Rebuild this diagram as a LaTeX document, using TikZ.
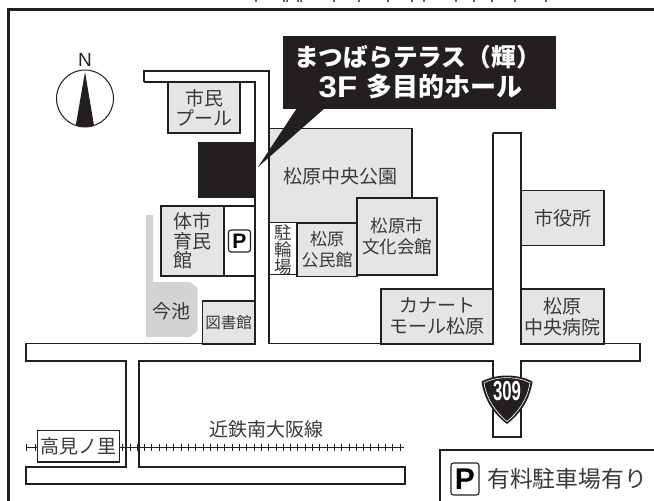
\documentclass[tikz,border=0pt]{standalone}
\usepackage{fontspec}
\setmainfont{Noto Sans CJK JP}
\newfontfamily\latinb{Liberation Sans}
\definecolor{ink}{HTML}{231F20}
\definecolor{txt}{HTML}{3A3839}
\definecolor{bld}{HTML}{E4E5E7}
\definecolor{pond}{HTML}{D1D3D4}
\tikzset{
  roadline/.style={draw=ink,line width=1.1pt},
  bldg/.style={draw=ink,line width=1.1pt,fill=bld,inner sep=0pt,outer sep=0pt,align=center,text=txt,font=\fontsize{19}{21}\selectfont},
  pbox/.style={draw=ink,line width=1.1pt,rounded corners=2.5pt,fill=white,inner sep=0pt,outer sep=0pt},
  lbl/.style={inner sep=0pt,outer sep=0pt,text=txt,align=center,font=\fontsize{19}{20}\selectfont},
  railtick/.style={draw=ink,line width=0.9pt},
  headline/.style={inner sep=0pt,outer sep=0pt,text=white},
}
\begin{document}
\begin{tikzpicture}[x=1pt,y=-1pt]
\useasboundingbox (0,0) rectangle (654,501);
% clipped remains of the heading above the frame
\begin{scope}
\clip (0,0) rectangle (654,1.8);
\foreach \t in {256,284,287,298,301,334,359,388,412,424,456,474,492,515,546} {\draw[ink!70,line width=1.1pt] (\t,0) -- (\t,3);}
\end{scope}
% frame
\draw[ink,line width=2.4pt] (8.5,501) -- (8.5,9.5) -- (654,9.5);
% compass
\node[circle,draw=ink,line width=1pt,minimum size=57pt,inner sep=0pt,outer sep=0pt] (compass) at (85,98.5) {};
\fill[ink] (85,72) -- (94,125.5) arc[start angle=71,end angle=109,radius=28] -- cycle;
\node[inner sep=0pt,text=ink,font=\latinb\fontsize{19}{20}\selectfont] (north) at (85,60) {N};
% roads
\draw[roadline] (144,82) -- (144,71) -- (269,71) -- (269,344);
\draw[roadline] (144,82) -- (255,82) -- (255,344);
\draw[roadline] (493,133) -- (521,133) -- (521,344);
\draw[roadline] (493,133) -- (493,344);
\draw[roadline] (255,343.5) -- (26,343.5) -- (26,361) -- (126,361) -- (126,467) -- (26,467) -- (26,484) -- (405,484) -- (405,467) -- (139,467) -- (139,361) -- (493,361) -- (493,437) -- (521,437) -- (521,361) -- (640,361) -- (640,343.5) -- (521,343.5);
\draw[roadline] (269,343.5) -- (493,343.5);
% pond
\fill[pond] (146,215) -- (153,215) -- (153,282) -- (190,282) -- (197.7,288) -- (197.7,331) -- (190,337) -- (146,337) -- cycle;
\node[lbl] (imaike) at (171,311) {今池};
% buildings
\node[bldg,minimum width=72pt,minimum height=51pt,font=\fontsize{19}{20}\selectfont] (pool) at (204,107.5) {市民\\プール};
\fill[ink] (198,142) rectangle (255,198);
\node[bldg,minimum width=143pt,minimum height=93.5pt] (park) at (340.5,175.5) {};
\node[lbl] (parklabel) at (340.5,176) {松原中央公園};
\node[bldg,fill=white,minimum width=28pt,minimum height=52.5pt] (bike) at (283,248.5) {};
\node[inner sep=0pt,outer sep=0pt,align=center,text=txt,font=\fontsize{17.5}{15.5}\selectfont] (bikelabel) at (283,250) {駐\\輪\\場};
\node[bldg,minimum width=60pt,minimum height=52.5pt,font=\fontsize{17}{21}\selectfont] (hall) at (327,250) {松原\\公民館};
\node[bldg,minimum width=80pt,minimum height=77pt,font=\fontsize{17.5}{21}\selectfont] (bunka) at (397,236.5) {松原市\\文化会館};
\node[bldg,minimum width=63pt,minimum height=70pt,align=left,font=\fontsize{19}{19.5}\selectfont] (gym) at (192.5,241) {体市\\育民\\館};
\node[bldg,fill=white,minimum width=31pt,minimum height=70pt] (gympark) at (239.5,241) {};
\node[pbox,minimum width=22pt,minimum height=22pt,font=\latinb\bfseries\fontsize{21}{21}\selectfont] (pmark) at (239.5,241) {P};
\node[bldg,minimum width=52.5pt,minimum height=43pt,font=\fontsize{15.5}{17}\selectfont] (lib) at (228.7,322.5) {図書館};
\node[bldg,minimum width=83pt,minimum height=55pt] (city) at (562.5,218) {市役所};
\node[bldg,minimum width=112pt,minimum height=55pt] (mall) at (437,316.5) {カナート\\モール松原};
\node[bldg,minimum width=83pt,minimum height=55pt] (hosp) at (562.5,316.5) {松原\\中央病院};
% callout
\node[fill=ink,minimum width=273pt,minimum height=73pt,inner sep=0pt,outer sep=0pt] (callout) at (419.5,72.5) {};
\coordinate (tip) at (258,167);
\fill[ink] (297,108) -- (tip) -- (325,108) -- cycle;
\node[headline,font=\bfseries\fontsize{24.7}{26}\selectfont] (headone) at (417.5,57) {まつばらテラス（輝）};
\node[headline,font=\bfseries\fontsize{26}{28}\selectfont] (headtwo) at (444.5,87) {多目的ホール};
\node[headline,font=\latinb\bfseries\fontsize{30}{30}\selectfont,xscale=1.1] (headfloor) at (338,87) {3F};
% railway
\draw[railtick] (26,447) -- (404,447);
\foreach \t in {26.7,35.7} {\draw[railtick] (\t,443.5) -- (\t,450.5);}
\foreach \t in {122.7,130,...,404} {\draw[railtick] (\t,443.5) -- (\t,450.5);}
\node[bldg,fill=white,minimum width=82pt,minimum height=31.5pt] (station) at (78.5,446.2) {高見ノ里};
\node[lbl] (railname) at (266,429) {近鉄南大阪線};
% route shield
\path[fill=ink] (481.5,381.5) .. controls (497,373.5) and (517,373.5) .. (532.5,381.5) .. controls (530,400) and (520,414) .. (507,424) .. controls (494,414) and (484,400) .. (481.5,381.5) -- cycle;
\path[draw=white,line width=0.6pt] (484,382.7) .. controls (498,376) and (516,376) .. (530,382.7) .. controls (527.5,399) and (518.5,412) .. (507,421.5) .. controls (495.5,412) and (486.5,399) .. (484,382.7) -- cycle;
\node[inner sep=0pt,text=white,font=\latinb\bfseries\fontsize{27.5}{28}\selectfont,xscale=.61] (route) at (507,391) {309};
% legend
\draw[ink,line width=1.1pt] (440,501) -- (440,450) -- (654,450);
\node[pbox,minimum width=28pt,minimum height=32pt,font=\latinb\bfseries\fontsize{30}{30}\selectfont] (plegend) at (465,479) {P};
\node[lbl,font=\fontsize{22.8}{24}\selectfont] (parking) at (567,479) {有料駐車場有り};
\end{tikzpicture}
\end{document}
